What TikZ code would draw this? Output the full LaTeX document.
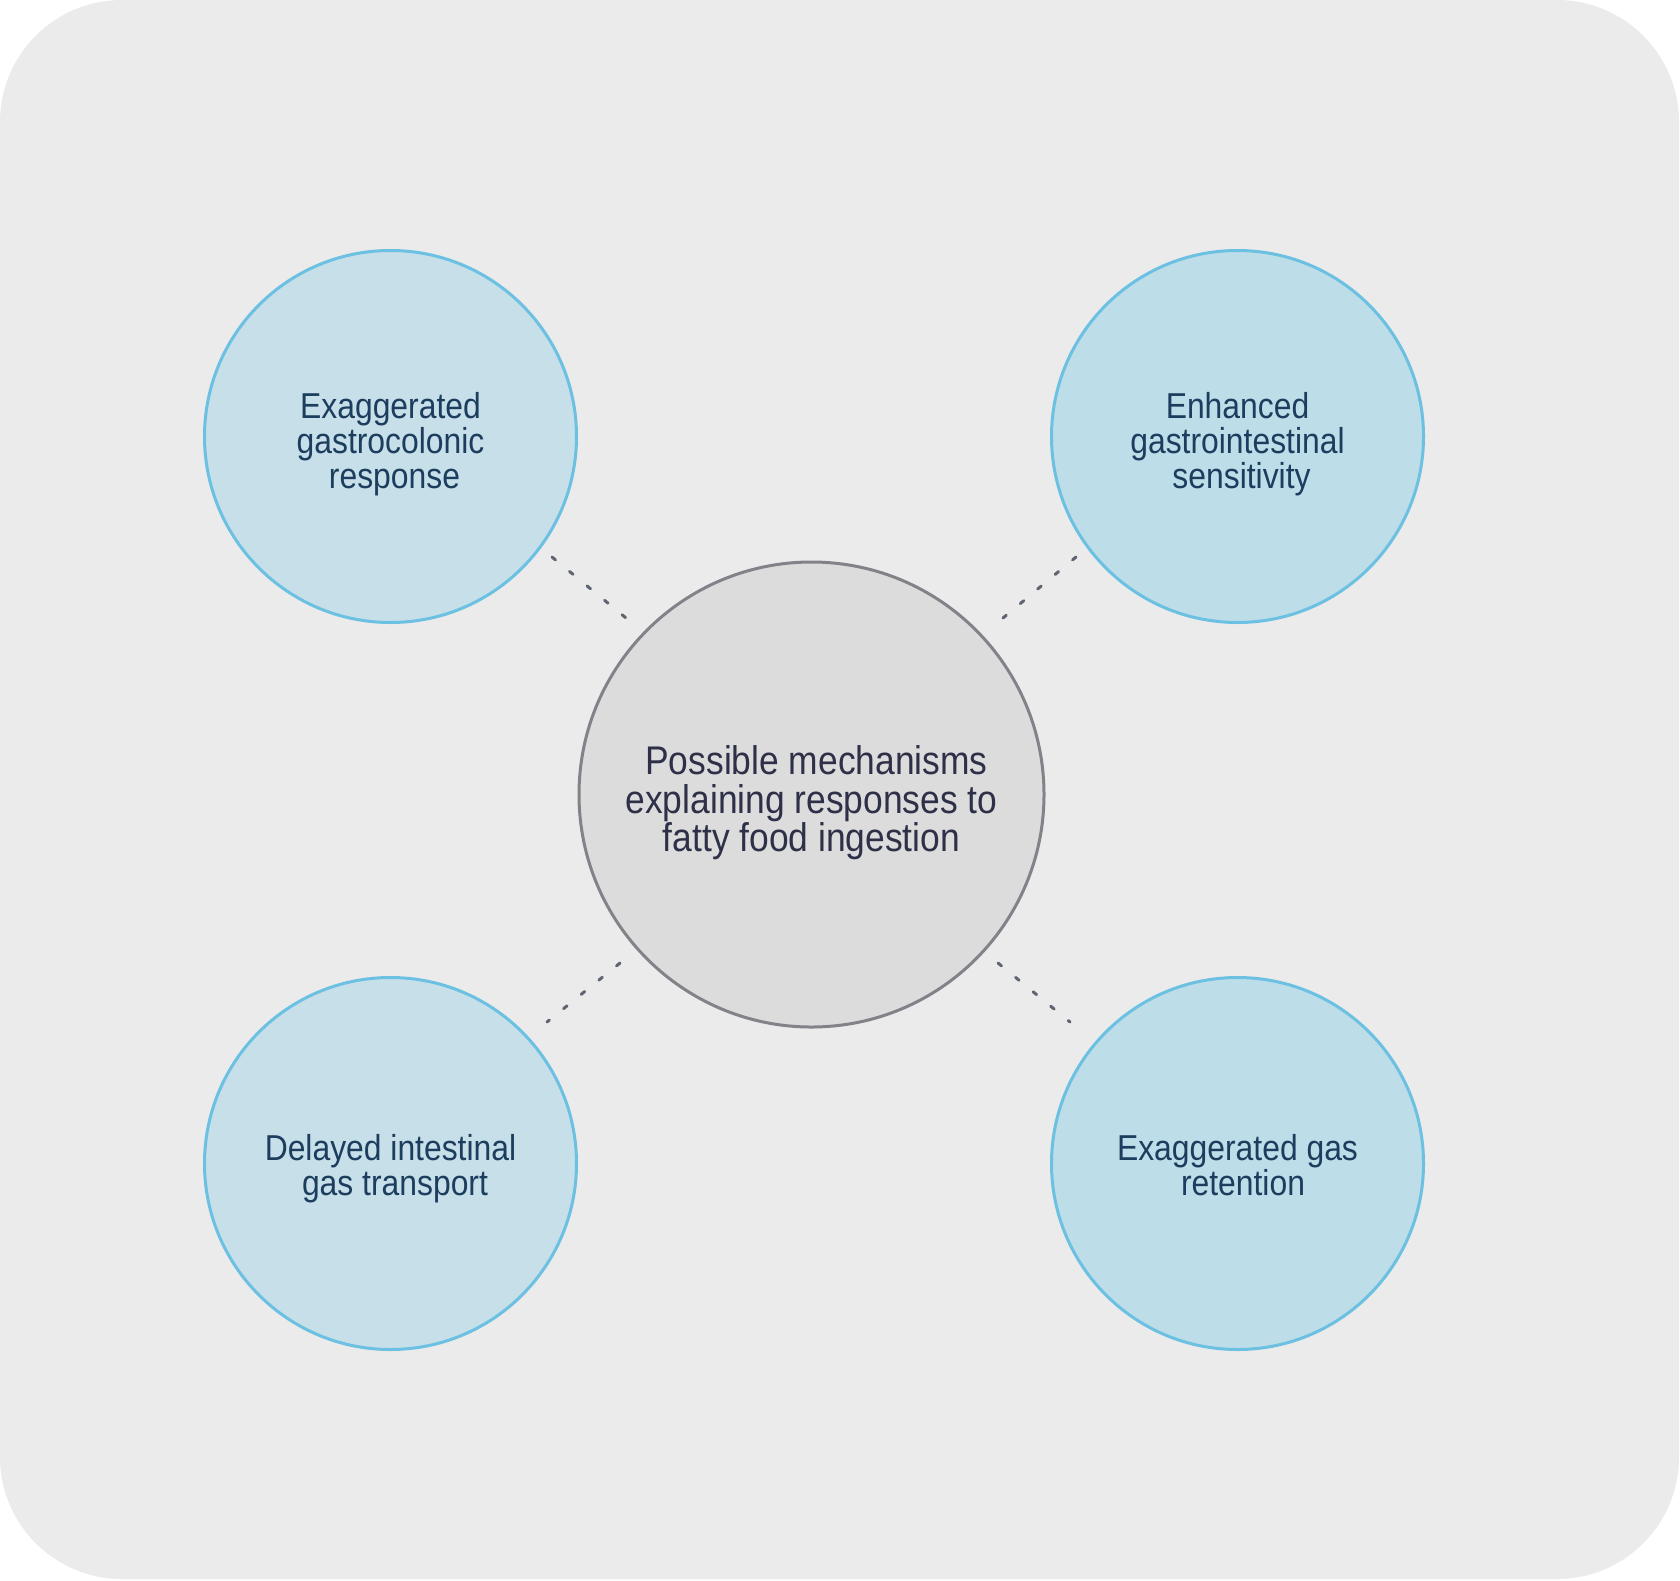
\documentclass[tikz,border=0pt]{standalone}
\usepackage{fontspec}
\setmainfont{Liberation Sans}[FakeStretch=0.885]
\definecolor{bgc}{HTML}{EBEBEB}
\definecolor{lfill}{HTML}{C6DFE9}
\definecolor{rfill}{HTML}{BDDDE8}
\definecolor{bstroke}{HTML}{6CC0E2}
\definecolor{otext}{HTML}{1C3D5E}
\definecolor{cfill}{HTML}{DCDCDD}
\definecolor{cstroke}{HTML}{818389}
\definecolor{ctext}{HTML}{2D3047}
\definecolor{dashc}{HTML}{5F6570}
\tikzset{
  outercirc/.style={circle, draw=bstroke, line width=3pt, minimum size=372pt, inner sep=0pt},
  centercirc/.style={circle, draw=cstroke, fill=cfill, line width=3pt, minimum size=465pt, inner sep=0pt},
  outertext/.style={inner sep=0pt, align=center, text=otext, font=\fontsize{36}{35}\selectfont},
  centertext/.style={inner sep=0pt, align=center, text=ctext, font=\fontsize{40}{38.5}\selectfont},
  dashline/.style={draw=dashc, line width=3pt, line cap=round, dash pattern=on 4.5pt off 18.2pt}
}
\begin{document}
\begin{tikzpicture}[x=1pt,y=-1pt]
\useasboundingbox (0,0) rectangle (1680,1580);
\fill[bgc, rounded corners=122pt] (0,0) rectangle (1679,1579);
\node[centercirc] (c) at (811.5,794.5) {};
\node[outercirc, fill=lfill] (tl) at (390.5,436.5) {};
\node[outercirc, fill=rfill] (tr) at (1237.5,436.5) {};
\node[outercirc, fill=lfill] (bl) at (390.5,1163.5) {};
\node[outercirc, fill=rfill] (br) at (1237.5,1163.5) {};
\node[centertext] (ct) at ([yshift=-8.6pt]c.center) {\hspace*{10pt}Possible mechanisms\\explaining responses to\\fatty food ingestion};
\node[outertext] (tlt) at ([yshift=-7.5pt]tl.center) {Exaggerated\\gastrocolonic\\\hspace*{8pt}response};
\node[outertext] (trt) at ([yshift=-7.5pt]tr.center) {Enhanced\\gastrointestinal\\\hspace*{8pt}sensitivity};
\node[outertext] (blt) at ([yshift=-5.4pt]bl.center) {Delayed intestinal\\\hspace*{9pt}gas transport};
\node[outertext] (brt) at ([yshift=-2.1pt]br.center) {Exaggerated gas\\\hspace*{11pt}retention};
\coordinate (tla) at (552,557);
\coordinate (tlb) at (626,618);
\coordinate (tra) at (1076,557);
\coordinate (trb) at (1003,618);
\coordinate (bla) at (620,963);
\coordinate (blb) at (547,1022);
\coordinate (bra) at (998,963);
\coordinate (brb) at (1070,1022);
\draw[dashline] (tla) -- (tlb);
\draw[dashline] (tra) -- (trb);
\draw[dashline] (bla) -- (blb);
\draw[dashline] (bra) -- (brb);
\end{tikzpicture}
\end{document}
